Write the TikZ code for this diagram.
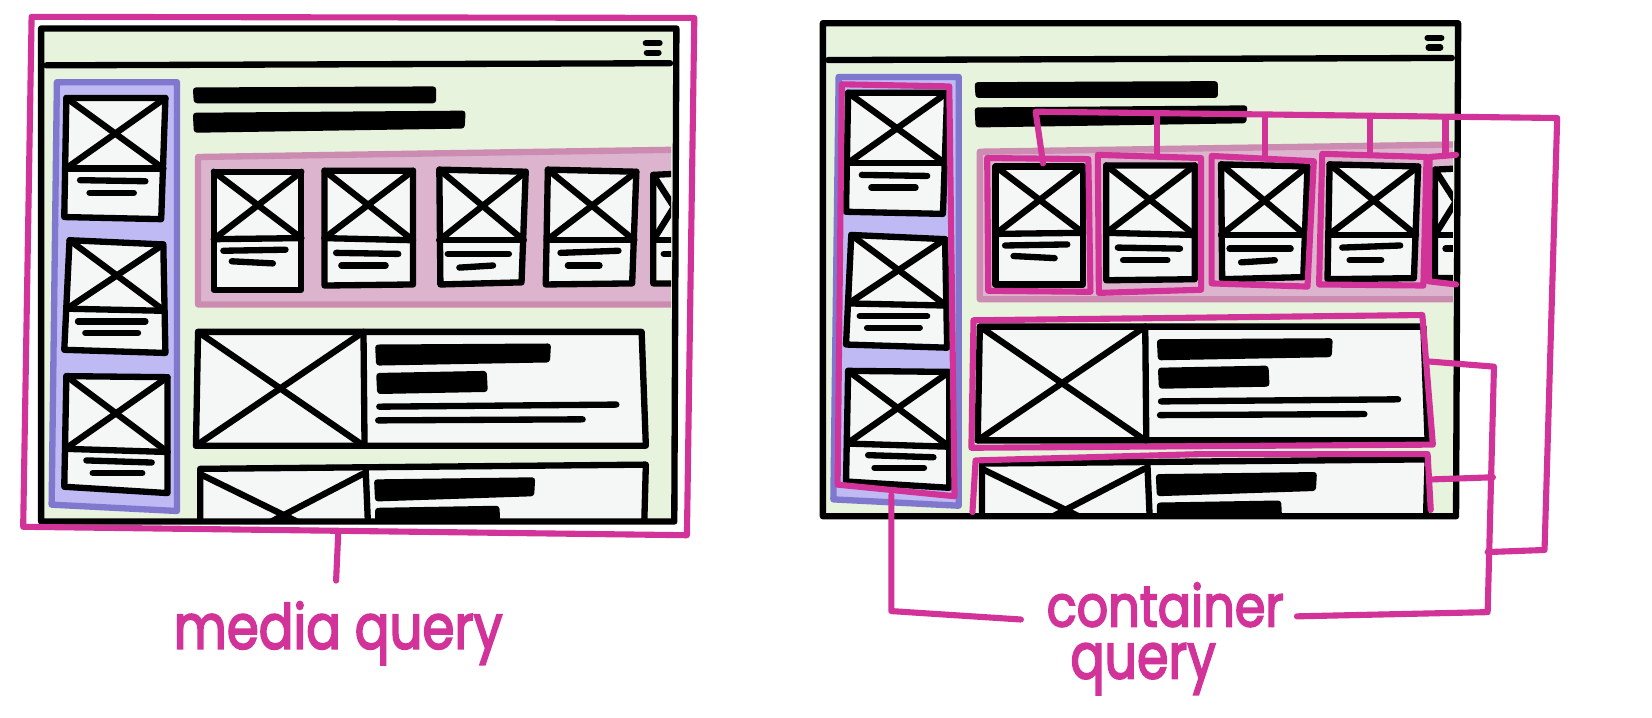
\documentclass[tikz,border=0pt]{standalone}
\usepackage{fontspec}
\usepackage{graphicx}
\setmainfont{Poppins}
\newfontfamily\handfont[FakeBold=3.2]{Poppins}
\definecolor{leaf}{HTML}{E7F3DC}
\definecolor{paper}{HTML}{F5F7F6}
\definecolor{lilac}{HTML}{BFBAF3}
\definecolor{lilacedge}{HTML}{7F78CE}
\definecolor{rose}{HTML}{DDB4CE}
\definecolor{roseedge}{HTML}{CC8BB0}
\definecolor{magenta1}{HTML}{D23399}
\tikzset{
  ink/.style={draw=black,line width=3pt,line join=round,line cap=round},
  cardbox/.style={ink,fill=paper},
  thinbar/.style={draw=black,line width=3pt,line cap=round},
  fatbar/.style={fill=black,rounded corners=1.5pt},
  hot/.style={draw=magenta1,line width=2.9pt,line join=round,line cap=round},
  hand/.style={text=magenta1,inner sep=0pt,font=\handfont},
}
% corners TL TR BR BL, then the two ends of the divider
\newcommand{\vcard}[6]{%
  \draw[cardbox] #1 -- #2 -- #3 -- #4 -- cycle;
  \draw[ink] #5 -- #6;
  \draw[ink] #1 -- #6;
  \draw[ink] #2 -- #5;
}
\newcommand{\twolines}[4]{%
  \draw[thinbar] #1 -- #2;
  \draw[thinbar] #3 -- #4;
}
\newcommand{\windowart}{%
  \fill[leaf] (39,27) -- (642,27) -- (640,495) -- (39,495) -- cycle;
  % sidebar
  \draw[draw=lilacedge,fill=lilac,line width=3pt,line join=round] (54,78) -- (168,78) -- (168,485) -- (49,479) -- cycle;
  \vcard{(63,93)}{(157,93)}{(153,208)}{(61,206)}{(62.5,160)}{(155,160)}
  \twolines{(76,171)}{(138,172)}{(85,183)}{(127,183)}
  \vcard{(66,228)}{(155,232)}{(157,335)}{(61,332)}{(63.5,293)}{(156,295)}
  \twolines{(74,305)}{(138,305)}{(81,316)}{(131,316)}
  \vcard{(63,357)}{(159,358)}{(159,468)}{(61,462)}{(62,426)}{(159,429)}
  \twolines{(82,437)}{(144,439)}{(88,449)}{(135,449)}
  % titles
  \fill[fatbar] (183,83) -- (414,82) -- (414,98) -- (184,98) -- cycle;
  \fill[fatbar] (183,107) -- (442,105) -- (441,122) -- (184,126) -- cycle;
  % carousel and wide cards
  \begin{scope}
    \clip (39,27) -- (637,27) -- (637,495) -- (39,495) -- cycle;
    \draw[draw=roseedge,fill=rose,line width=3pt,line join=round] (650,142) -- (188,149) -- (188,289) -- (650,289);
    \vcard{(203,163)}{(286,163)}{(286,275)}{(203,275)}{(203,227)}{(286,226)}
    \twolines{(212,238)}{(271,237)}{(220,248)}{(259,250)}
    \vcard{(308,162)}{(392,162)}{(392,270)}{(308,271)}{(308,226)}{(392,228)}
    \twolines{(319,240)}{(378,241)}{(324,252)}{(366,252)}
    \vcard{(417,161)}{(499,163)}{(495,268)}{(418,270)}{(417,228)}{(497,228)}
    \twolines{(425,241)}{(483,241)}{(436,254)}{(468,252)}
    \vcard{(520,161)}{(604,163)}{(600,269)}{(518,270)}{(519,228)}{(602,228)}
    \twolines{(532,240)}{(587,238)}{(539,252)}{(569,252)}
    \vcard{(620,166)}{(660,164)}{(660,269)}{(620,269)}{(620,228)}{(660,228)}
    \draw[thinbar] (630,241) -- (660,241);
    % wide cards
    \draw[cardbox] (188,315) -- (609,315) -- (613,423) -- (186,423) -- cycle;
    \draw[ink] (345,315) -- (346,423);
    \draw[ink] (188,315) -- (345,423);
    \draw[ink] (345,315) -- (186,423);
    \fill[fatbar] (356,327) -- (523,326) -- (522,344) -- (357,347) -- cycle;
    \fill[fatbar] (357,354) -- (462,352) -- (463,372) -- (358,374) -- cycle;
    \draw[thinbar] (360,386) -- (585,384);
    \draw[thinbar] (359,399) -- (553,398);
    \draw[cardbox] (190,515) -- (190,445) -- (613,441) -- (611,515);
    \draw[ink] (347,444) -- (350,515);
    \draw[ink] (190,450) -- (290,499);
    \draw[ink] (344,450) -- (248,500);
    \fill[fatbar] (355,455) -- (508,453) -- (507,471) -- (356,476) -- cycle;
    \fill[fatbar] (356,482) -- (474,480) -- (475,500) -- (356,500) -- cycle;
  \end{scope}
  % window frame
  \draw[ink] (39,27) -- (642,27) -- (640,495) -- (39,495) -- cycle;
  \draw[ink] (44,62) -- (636,60);
  \draw[ink] (613,41) -- (626,41);
  \draw[ink] (614,50) -- (625,50);
}
\begin{document}
\begin{tikzpicture}[x=.5pt,y=-.5pt]
  \fill[white] (0,0) rectangle (1568,681);
  \useasboundingbox (0,0) rectangle (1568,681);
  % left
  \windowart
  \draw[hot] (30,16) -- (659,17) -- (652,508) -- (22,500) -- cycle;
  \draw[hot] (321,507) -- (319,551);
  % right
  \begin{scope}[shift={(742,-5)}]
    \windowart
  \end{scope}
  \draw[hot] (799,80) -- (901,82) -- (906,471) -- (795,460) -- cycle;
  \draw[hot] (937,150) -- (1033,151) -- (1035,277) -- (938,276) -- cycle;
  \draw[hot] (1042,147) -- (1140,150) -- (1140,275) -- (1043,278) -- cycle;
  \draw[hot] (1150,148) -- (1247,153) -- (1241,272) -- (1150,269) -- cycle;
  \draw[hot] (1255,146) -- (1354,149) -- (1351,271) -- (1252,270) -- cycle;
  \draw[hot] (1382,147) -- (1357,149) -- (1356,267) -- (1382,270);
  \draw[hot] (924,304) -- (1350,299) -- (1360,422) -- (922,425) -- cycle;
  \draw[hot] (923,486) -- (926,437) -- (1140,431) -- (1355,431) -- (1358,484);
  \draw[hot] (990,155) -- (983,106) -- (1478,112) -- (1466,522) -- (1412,524);
  \draw[hot] (1098,109) -- (1098,147);
  \draw[hot] (1201,110) -- (1201,150);
  \draw[hot] (1300,111) -- (1300,147);
  \draw[hot] (1372,112) -- (1372,146);
  \draw[hot] (1355,343) -- (1418,348) -- (1412,581) -- (1231,585);
  \draw[hot] (1360,455) -- (1417,453);
  \draw[hot] (846,470) -- (846,580) -- (969,588);
  \node[hand] (cq1) at (1106,574) {\resizebox*{112.5pt}{21pt}{container}};
  \node[hand] (cq2) at (1085,635) {\resizebox*{69pt}{24.5pt}{query}};
  \node[hand] (mq2) at (321,601) {\resizebox*{156pt}{30pt}{media query}};
\end{tikzpicture}
\end{document}
